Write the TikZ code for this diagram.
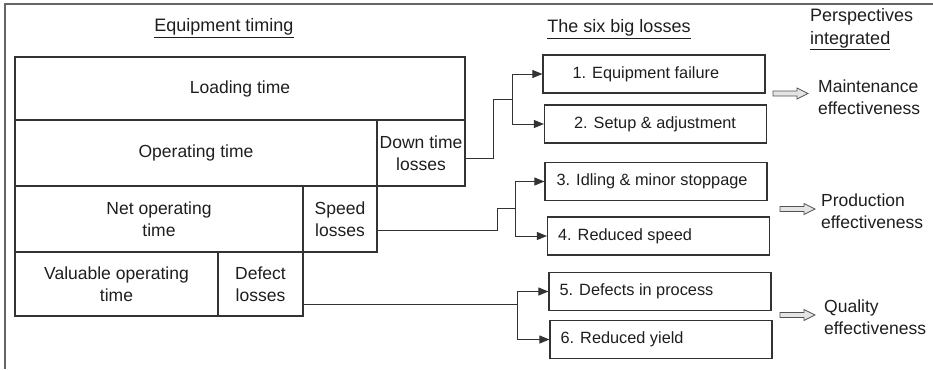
\documentclass[tikz,border=0pt]{standalone}
\usepackage{fontspec}
\setmainfont{Liberation Sans}
\usetikzlibrary{arrows.meta}
\definecolor{ink}{HTML}{1E1E1E}
\definecolor{edge}{HTML}{333333}
\definecolor{framecol}{HTML}{666666}
\definecolor{hollow}{HTML}{E4E4E4}
\begin{document}
\begin{tikzpicture}[x=1pt,y=-1pt,
  every node/.style={text=ink},
  timebox/.style={draw=edge, line width=1.2pt, inner sep=0pt, align=center,
    font=\fontsize{17.5}{22}\selectfont},
  lossbox/.style={draw=edge, line width=1.2pt, minimum width=222pt,
    minimum height=38pt, inner sep=0pt},
  losstext/.style={font=\fontsize{16.3}{20}\selectfont, inner sep=0pt},
  heading/.style={font=\fontsize{18}{23}\selectfont, inner sep=0pt},
  persp/.style={font=\fontsize{17.5}{22}\selectfont, align=left, inner sep=0pt, anchor=west},
  link/.style={draw=edge, line width=1pt},
  tip/.style={-{Triangle[length=10pt,width=8pt]}},
  fatarrow/.style={draw=edge!85, fill=hollow, line width=0.7pt, line join=miter}]
\useasboundingbox (0,0) rectangle (933,369);

% outer frame (top and left rules only)
\draw[framecol, line width=2.2pt] (933,4) -- (5,4) -- (5,369);

% headings
\node[heading] (h1) at (224,28) {\underline{Equipment timing}};
\node[heading] (h2) at (619,29) {\underline{The six big losses}};
\node[heading, align=left, anchor=north west] (h3) at (810,8) {Perspectives\\\underline{integrated}};

% equipment timing blocks
\node[timebox, minimum width=450pt, minimum height=63pt] (load) at (240,88.5) {Loading time};
\node[timebox, minimum width=362pt, minimum height=66pt] (oper) at (196,153) {Operating time};
\node[timebox, minimum width=88pt, minimum height=66pt] (down) at (421,153) {Down time\\losses};
\node[timebox, minimum width=288pt, minimum height=66pt] (net) at (159,219) {Net operating\\time};
\node[timebox, minimum width=74pt, minimum height=66pt] (speed) at (340,219) {Speed\\losses};
\node[timebox, minimum width=203pt, minimum height=64pt] (valu) at (116.5,284) {Valuable operating\\time};
\node[timebox, minimum width=85pt, minimum height=64pt] (defect) at (260.5,284) {Defect\\losses};

% the six big losses
\node[lossbox] (b1) at (654,74) {};
\node[lossbox] (b2) at (655.5,124) {};
\node[lossbox] (b3) at (656,181.5) {};
\node[lossbox] (b4) at (658.5,236) {};
\node[lossbox] (b5) at (660,291.5) {};
\node[lossbox] (b6) at (661,339.5) {};
\node[losstext, anchor=west] (t1) at ([xshift=30pt]b1.west) {1. Equipment failure};
\node[losstext, anchor=west] (t2) at ([xshift=30pt]b2.west) {2. Setup \& adjustment};
\node[losstext, anchor=west] (t3) at ([xshift=12pt]b3.west) {3. Idling \& minor stoppage};
\node[losstext, anchor=west] (t4) at ([xshift=11pt]b4.west) {4. Reduced speed};
\node[losstext, anchor=west] (t5) at ([xshift=11pt]b5.west) {5. Defects in process};
\node[losstext, anchor=west] (t6) at ([xshift=11pt]b6.west) {6. Reduced yield};

% connectors from the losses to the six big losses
\coordinate (j1) at (512,99);
\coordinate (j2) at (515,208);
\coordinate (j3) at (517,304);
\draw[link] ([yshift=-5pt]down.east) -| (493,99) -- (j1);
\draw[link, tip] (j1) |- (b1.west);
\draw[link, tip] (j1) |- (b2.west);
\draw[link] ([yshift=-11pt]speed.east) -| (497,208) -- (j2);
\draw[link, tip] (j2) |- (b3.west);
\draw[link, tip] (j2) |- (b4.west);
\draw[link] ([yshift=-20pt]defect.east) -- (j3);
\draw[link, tip] (j3) |- (b5.west);
\draw[link, tip] (j3) |- (b6.west);

% hollow arrows pointing to the perspectives
\coordinate (a1) at (773,93.5);
\coordinate (a2) at (780,209);
\coordinate (a3) at (780,315);
\foreach \a in {a1,a2,a3}
  \draw[fatarrow] (\a) ++(0,-2.5) -- ++(24,0) -- ++(0,-3) -- ++(11,5.5)
    -- ++(-11,5.5) -- ++(0,-3) -- ++(-24,0) -- cycle;

% perspectives
\node[persp] (p1) at (818,97) {Maintenance\\effectiveness};
\node[persp] (p2) at (821,211) {Production\\effectiveness};
\node[persp] (p3) at (824,317) {Quality\\effectiveness};
\end{tikzpicture}
\end{document}
